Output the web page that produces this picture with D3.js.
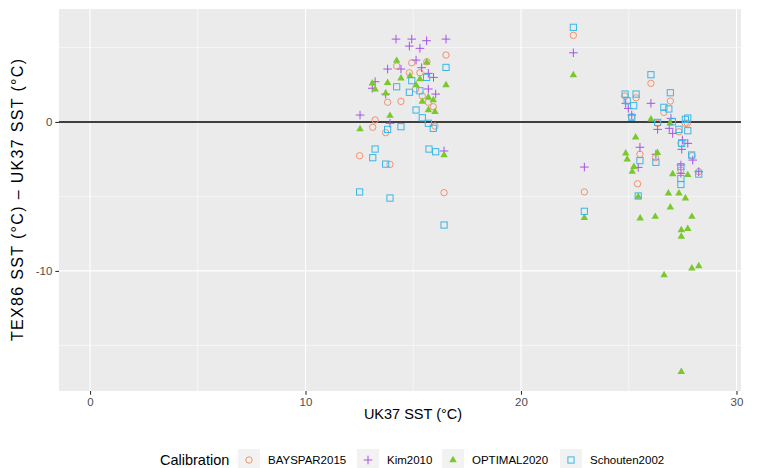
<!DOCTYPE html>
<html>
<head>
<meta charset="utf-8">
<script src="https://cdn.jsdelivr.net/npm/d3@7"></script>
<style>
  body { margin: 0; background: #ffffff; }
  text { font-family: "Liberation Sans", Arial, Helvetica, sans-serif; }
</style>
</head>
<body>
<svg id="chart" width="759" height="468"></svg>
<script>
// Axis limits (data units) and tick values
const xLimits = [-1.44, 30.21];
const yLimits = [-18.06, 7.58];
const xMajorTicks = [0, 10, 20, 30];
const xMinorTicks = [5, 15, 25];
const yMajorTicks = [-10, 0];
const yMinorTicks = [-15, -5, 5];

// Calibration series: [UK37 SST, TEX86 SST - UK37 SST]
const calibrations = ["BAYSPAR2015", "Kim2010", "OPTIMAL2020", "Schouten2002"];

const bayspar2015 = [
  [16.52,4.49],[14.23,3.75],[14.93,3.97],[15.63,4.04],[14.82,3.30],[15.31,3.30],[15.11,2.21],[15.42,1.74],
  [13.81,1.32],[14.43,1.38],[15.70,1.32],[15.93,1.02],[13.23,0.13],[13.12,-0.36],[13.72,-0.72],[16.01,-0.28],
  [13.92,-2.85],[12.51,-2.27],[16.43,-4.75],
  [22.43,5.81],[22.94,-4.70],
  [26.03,2.59],[24.83,1.74],[25.34,1.62],[26.93,1.40],[26.63,0.64],[25.14,0.35],[27.72,-0.09],[27.62,-0.09],
  [26.34,-0.09],[27.33,-0.66],[27.42,-1.44],[27.94,-2.27],[25.52,-2.17],[26.24,-2.40],[27.42,-3.23],[28.25,-3.34],
  [25.41,-4.15]
];

const kim2010 = [
  [14.20,5.56],[14.93,5.56],[14.82,5.09],[15.31,4.94],[15.62,5.45],[16.52,5.56],[15.13,4.15],[15.39,3.64],
  [14.43,3.55],[13.81,3.55],[15.70,3.26],[15.94,2.99],[13.23,2.70],[13.10,2.26],[13.72,1.87],[15.70,2.21],
  [16.04,1.87],[12.53,0.46],[13.92,-0.09],[16.43,-1.95],
  [22.43,4.64],[22.94,-3.03],
  [26.03,1.25],[24.86,1.25],[24.98,0.91],[25.14,0.46],[26.96,0.24],[26.88,-0.43],[27.04,-0.77],[26.34,-0.50],
  [27.49,-1.21],[27.74,-1.44],[27.46,-1.84],[25.52,-1.70],[26.26,-2.17],[27.97,-2.56],[25.44,-3.05],[27.42,-2.89],
  [28.25,-3.34],[27.42,-3.45]
];

const optimal2020 = [
  [14.23,4.11],[15.63,4.00],[13.81,2.63],[14.43,2.93],[14.85,3.08],[15.31,2.88],[16.52,2.48],[13.23,2.19],
  [13.72,1.92],[15.42,1.36],[15.70,1.65],[15.93,1.47],[15.70,0.80],[16.01,0.68],[13.92,0.42],[12.53,-0.48],
  [16.43,-2.22],[15.13,2.48],[13.10,2.59],
  [22.43,3.15],[22.94,-6.43],
  [26.03,0.17],[26.92,-0.09],[25.32,-1.03],[24.86,-2.11],[24.93,-2.51],[25.24,-3.01],[25.16,-3.34],[26.33,-2.07],
  [27.04,-3.50],[27.74,-3.56],[25.44,-5.02],[26.84,-4.79],[27.33,-4.79],[27.63,-5.13],[26.93,-5.73],[25.53,-6.47],
  [26.23,-6.36],[27.93,-6.36],[27.44,-7.26],[27.74,-7.17],[27.44,-7.70],[27.93,-9.83],[28.25,-9.67],[26.64,-10.28],
  [27.44,-16.77]
];

const schouten2002 = [
  [16.52,3.66],[14.93,2.77],[15.62,2.99],[14.23,2.36],[14.82,1.99],[15.31,2.09],[15.13,0.80],[15.42,0.28],
  [15.70,-0.09],[15.93,-0.43],[14.43,-0.32],[13.81,-0.50],[13.23,-1.82],[13.12,-2.40],[13.72,-2.83],[15.73,-1.82],
  [16.04,-2.00],[12.51,-4.70],[13.92,-5.11],[16.43,-6.92],
  [22.43,6.35],[22.94,-6.00],
  [26.03,3.17],[24.83,1.87],[25.34,1.87],[26.93,1.96],[25.23,1.09],[26.63,0.98],[26.86,0.87],[27.03,0.01],
  [25.14,0.31],[26.34,-0.03],[27.74,0.26],[27.63,0.17],[27.33,-0.50],[27.74,-0.59],[27.46,-1.44],[27.92,-2.22],
  [25.52,-2.60],[26.26,-2.71],[27.42,-3.00],[27.42,-3.80],[27.42,-4.20],[28.25,-3.50],[25.44,-4.97],[24.93,1.42]
];

const seriesData = [bayspar2015, kim2010, optimal2020, schouten2002];
const seriesColors = ["#F3916E", "#A553E6", "#79C82C", "#37B7E8"];
const seriesShapes = ["circle", "plus", "triangle", "square"];

// Layout
const panel = { left: 59, right: 741, top: 9, bottom: 391 };
const svg = d3.select("#chart");

const x = d3.scaleLinear().domain(xLimits).range([panel.left, panel.right]);
const y = d3.scaleLinear().domain(yLimits).range([panel.bottom, panel.top]);

// Panel background
svg.append("rect")
  .attr("x", panel.left).attr("y", panel.top)
  .attr("width", panel.right - panel.left).attr("height", panel.bottom - panel.top)
  .attr("fill", "#EBEBEB");

// Gridlines
const grid = svg.append("g");
grid.selectAll(".xminor").data(xMinorTicks).join("line")
  .attr("x1", d => x(d)).attr("x2", d => x(d))
  .attr("y1", panel.top).attr("y2", panel.bottom)
  .attr("stroke", "#ffffff").attr("stroke-width", 0.55);
grid.selectAll(".yminor").data(yMinorTicks).join("line")
  .attr("y1", d => y(d)).attr("y2", d => y(d))
  .attr("x1", panel.left).attr("x2", panel.right)
  .attr("stroke", "#ffffff").attr("stroke-width", 0.55);
grid.selectAll(".xmajor").data(xMajorTicks).join("line")
  .attr("x1", d => x(d)).attr("x2", d => x(d))
  .attr("y1", panel.top).attr("y2", panel.bottom)
  .attr("stroke", "#ffffff").attr("stroke-width", 1.1);
grid.selectAll(".ymajor").data(yMajorTicks).join("line")
  .attr("y1", d => y(d)).attr("y2", d => y(d))
  .attr("x1", panel.left).attr("x2", panel.right)
  .attr("stroke", "#ffffff").attr("stroke-width", 1.1);

// Zero reference line
svg.append("line")
  .attr("x1", panel.left).attr("x2", panel.right)
  .attr("y1", y(0)).attr("y2", y(0))
  .attr("stroke", "#000000").attr("stroke-width", 1.6);

// Axes
const xAxis = d3.axisBottom(x).tickValues(xMajorTicks).tickSize(3.7).tickPadding(3).tickFormat(d3.format("d"));
const yAxis = d3.axisLeft(y).tickValues(yMajorTicks).tickSize(3.7).tickPadding(3).tickFormat(d => String(d));

const gx = svg.append("g").attr("transform", `translate(0,${panel.bottom})`).call(xAxis);
const gy = svg.append("g").attr("transform", `translate(${panel.left},0)`).call(yAxis);
[gx, gy].forEach(g => {
  g.select(".domain").remove();
  g.selectAll(".tick line").attr("stroke", "#333333").attr("stroke-width", 1.1);
  g.selectAll(".tick text").attr("fill", "#4D4D4D").attr("font-size", "11.5px")
    .style("font-family", '"Liberation Sans", Arial, sans-serif');
});

// Axis titles
svg.append("text")
  .attr("x", 413).attr("y", 419)
  .attr("text-anchor", "middle").attr("font-size", "14.5px").attr("fill", "#000")
  .text("UK37 SST (°C)");
svg.append("text")
  .attr("transform", `translate(23,${(panel.top + panel.bottom) / 2}) rotate(-90)`)
  .attr("text-anchor", "middle").attr("font-size", "16px").attr("fill", "#000")
  .attr("textLength", 282).attr("lengthAdjust", "spacing")
  .text("TEX86 SST (°C) – UK37 SST (°C)");

// Point marks
function drawShape(sel, shape, color) {
  if (shape === "circle") {
    sel.append("circle").attr("r", 3.2).attr("fill", "none").attr("stroke", color).attr("stroke-width", 1);
  } else if (shape === "square") {
    sel.append("rect").attr("x", -3.1).attr("y", -3.1).attr("width", 6.2).attr("height", 6.2)
      .attr("fill", "none").attr("stroke", color).attr("stroke-width", 1);
  } else if (shape === "plus") {
    sel.append("path").attr("d", "M-4.3,0H4.3M0,-4.3V4.3")
      .attr("fill", "none").attr("stroke", color).attr("stroke-width", 1);
  } else if (shape === "triangle") {
    sel.append("path").attr("d", d3.symbol(d3.symbolTriangle, 24)()).attr("fill", color);
  }
}

const pointsLayer = svg.append("g");
seriesData.forEach((data, i) => {
  const g = pointsLayer.append("g");
  g.selectAll("g").data(data).join("g")
    .attr("transform", d => `translate(${x(d[0])},${y(d[1])})`)
    .each(function () { drawShape(d3.select(this), seriesShapes[i], seriesColors[i]); });
});

// Legend
const legendY = 460;
svg.append("text").attr("x", 160).attr("y", legendY).attr("dy", "0.35em")
  .attr("font-size", "14.5px").attr("fill", "#000").text("Calibration");
const keyX = [238, 357, 442, 560];
calibrations.forEach((name, i) => {
  const g = svg.append("g").attr("transform", `translate(${keyX[i]},${legendY - 11})`);
  g.append("rect").attr("width", 22).attr("height", 22).attr("fill", "#F2F2F2");
  const k = g.append("g").attr("transform", "translate(11,11)");
  drawShape(k, seriesShapes[i], seriesColors[i]);
  g.append("text").attr("x", 30).attr("y", 11).attr("dy", "0.35em")
    .attr("font-size", "11.5px").attr("fill", "#000").text(name);
});
</script>
</body>
</html>
